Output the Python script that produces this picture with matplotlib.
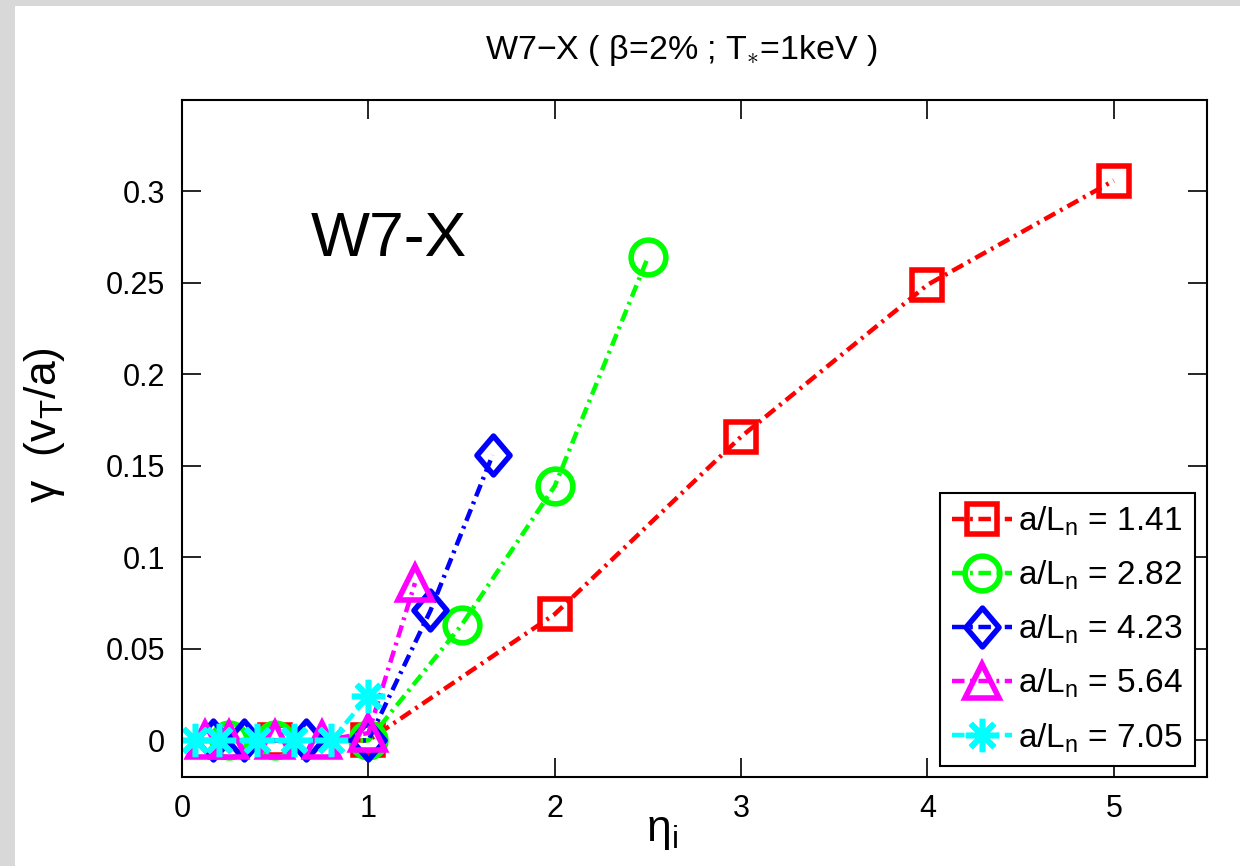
import matplotlib
matplotlib.use("Agg")
import matplotlib.pyplot as plt
from matplotlib.patches import Rectangle
from matplotlib.path import Path

plt.rcParams['font.family'] = ['Liberation Sans', 'DejaVu Sans']
plt.rcParams['mathtext.fontset'] = 'custom'
plt.rcParams['mathtext.rm'] = 'Liberation Sans'
plt.rcParams['mathtext.it'] = 'Liberation Sans'
plt.rcParams['mathtext.bf'] = 'Liberation Sans'
plt.rcParams['lines.scale_dashes'] = False

# ---- data ----
labels = ["1.41", "2.82", "4.23", "5.64", "7.05"]
eta_red = [0.5, 1.0, 2.0, 3.0, 4.0, 5.0]
gam_red = [0.0, 0.0, 0.069, 0.166, 0.249, 0.306]
eta_green = [0.25, 0.5, 1.0, 1.5, 2.0, 2.5]
gam_green = [0.0, 0.0, 0.0, 0.063, 0.139, 0.264]
eta_blue = [1/6, 1/3, 2/3, 1.0, 4/3, 5/3]
gam_blue = [0.0, 0.0, 0.0, 0.0, 0.071, 0.156]
eta_mag = [0.125, 0.25, 0.5, 0.75, 1.0, 1.25]
gam_mag = [0.0, 0.0, 0.0, 0.0, 0.004, 0.086]
eta_cyan = [0.07, 0.2, 0.4, 0.6, 0.8, 1.0]
gam_cyan = [0.0, 0.0, 0.0, 0.0, 0.0, 0.024]

xticks = [0, 1, 2, 3, 4, 5]
yticks = [0, 0.05, 0.1, 0.15, 0.2, 0.25, 0.3]
ytick_labels = ["0", "0.05", "0.1", "0.15", "0.2", "0.25", "0.3"]

W, H = 1240, 866
fig = plt.figure(figsize=(W / 100, H / 100), dpi=100)
fig.patch.set_facecolor('#d8d8d8')
fig.add_artist(Rectangle((15 / W, 0), 1 - 15 / W, 1 - 6 / H, transform=fig.transFigure,
                         facecolor='white', edgecolor='none', zorder=0))

ax = fig.add_axes([182 / W, (H - 777) / H, (1207 - 182) / W, (777 - 100) / H])
ax.set_facecolor('white')

diamond = Path([(0, 1), (0.85, 0), (0, -1), (-0.85, 0), (0, 1)],
               [Path.MOVETO, Path.LINETO, Path.LINETO, Path.LINETO, Path.CLOSEPOLY])

series = [
    (eta_red, gam_red, (1, 0, 0), 's', 21),
    (eta_green, gam_green, (0, 1, 0), 'o', 25),
    (eta_blue, gam_blue, (0, 0, 1), diamond, 28),
    (eta_mag, gam_mag, (1, 0, 1), '^', 25),
    (eta_cyan, gam_cyan, (0, 1, 1), (8, 2, 0), 24),
]
dash = (0, (9, 4, 2, 4))
for (x, y, c, m, ms), lab in zip(series, labels):
    ax.plot(x, y, color=c, linestyle=dash, linewidth=3.2, marker=m, markersize=ms,
            markerfacecolor='none', markeredgecolor=c, markeredgewidth=4,
            label='a/L$_\\mathregular{n}$ = ' + lab)

ax.set_xlim(0, 5.5)
ax.set_ylim(-0.02, 0.35)
ax.set_xticks(xticks)
ax.set_xticklabels([str(v) for v in xticks])
ax.set_yticks(yticks)
ax.set_yticklabels(ytick_labels)
ax.tick_params(direction='in', top=True, right=True, length=14, width=1.2,
               labelsize=22, pad=12)
for s in ax.spines.values():
    s.set_linewidth(1.5)

ax.text(0.69, 0.2645, 'W7-X', fontsize=45, ha='left', va='baseline')

ax.set_ylabel('γ  (v$_\\mathregular{T}$/a)', fontsize=32)
ax.yaxis.set_label_coords(-0.112, 0.52)
ax.set_xlabel('η$_\\mathregular{i}$', fontsize=32)
ax.xaxis.set_label_coords(0.468, -0.05)

fig.text(681 / W, 1 - 50 / H, 'W7−X ( β=2% ; T$_{\\ast}$=1keV )', fontsize=24.5,
         ha='center', va='center')

leg = ax.legend(loc='lower right', bbox_to_anchor=(0.988, 0.016), borderaxespad=0,
                fontsize=24, handlelength=1.8, handletextpad=0.2, labelspacing=0.62,
                borderpad=0.35, fancybox=False, framealpha=1, edgecolor='black')
leg.get_frame().set_linewidth(1.5)

fig.savefig('out.png', dpi=100, facecolor=fig.get_facecolor())
